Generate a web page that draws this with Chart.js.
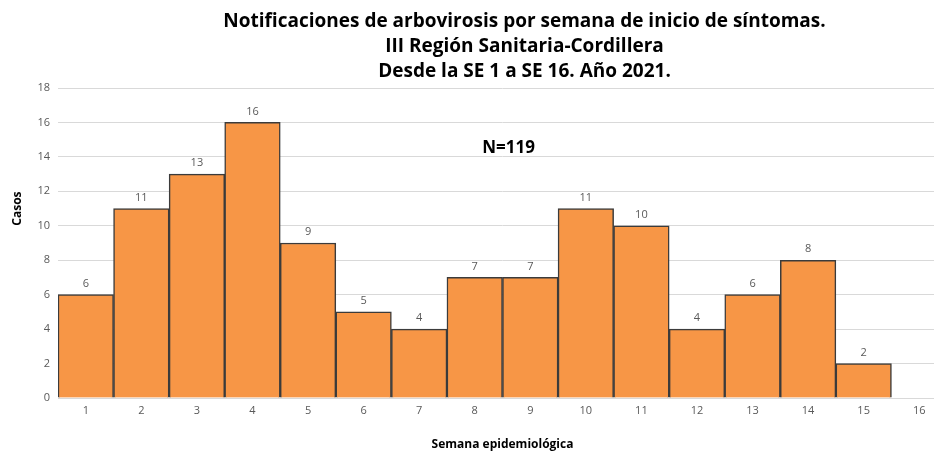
<!DOCTYPE html>
<html>
<head>
<meta charset="utf-8">
<script src="https://cdn.jsdelivr.net/npm/chart.js@4.4.1/dist/chart.umd.min.js"></script>
<style>
  html, body { margin: 0; padding: 0; background: #fff; overflow: hidden; }
  #wrap { width: 960px; height: 452px; position: relative; }
</style>
</head>
<body>
<div id="wrap"><canvas id="grafico"></canvas></div>
<script>
// datos: semana epidemiologica y casos
var semanas = ['1','2','3','4','5','6','7','8','9','10','11','12','13','14','15','16'];
var casos   = [6, 11, 13, 16, 9, 5, 4, 7, 7, 11, 10, 4, 6, 8, 2, 0];
var ticksY  = [0, 2, 4, 6, 8, 10, 12, 14, 16, 18];

var tituloLineas = [
  'Notificaciones de arbovirosis por semana de inicio de síntomas.',
  'III Región Sanitaria-Cordillera',
  'Desde la SE 1 a SE 16. Año 2021.'
];
var textoN = 'N=119';
var tituloY = 'Casos';

var fuente = "'Open Sans', 'Noto Sans', sans-serif";

// titulo, etiquetas de barras, N y titulo del eje y
var extrasPlugin = {
  id: 'extras',
  afterDatasetsDraw: function(chart) {
    var ctx = chart.ctx;
    var meta = chart.getDatasetMeta(0);
    ctx.save();
    ctx.font = '11px ' + fuente;
    ctx.fillStyle = '#595959';
    ctx.textAlign = 'center';
    ctx.textBaseline = 'middle';
    meta.data.forEach(function(bar, i) {
      if (!casos[i]) return;
      ctx.fillText(String(casos[i]), bar.x, bar.y - 11);
    });

    var area = chart.chartArea;
    var ys = chart.scales.y;
    ctx.font = 'bold 17px ' + fuente;
    ctx.fillStyle = '#000';
    ctx.fillText(textoN, (area.left + area.right) / 2 + 6, ys.getPixelForValue(14.5));

    // titulo
    ctx.font = 'bold 19px ' + fuente;
    var cx = (area.left + area.right) / 2 + 22;
    tituloLineas.forEach(function(t, i) {
      ctx.fillText(t, cx, 22 + i * 25);
    });

    // Casos (un poco mas arriba que el centro del eje)
    ctx.font = 'bold 12px ' + fuente;
    ctx.translate(18, ys.getPixelForValue(11));
    ctx.rotate(-Math.PI / 2);
    ctx.fillText(tituloY, 0, 0);
    ctx.restore();
  }
};

new Chart(document.getElementById('grafico'), {
  type: 'bar',
  data: {
    labels: semanas,
    datasets: [{
      label: 'Casos',
      data: casos,
      backgroundColor: '#F79646',
      borderColor: '#3b3b3b',
      borderWidth: 1.5,
      barPercentage: 1,
      categoryPercentage: 1,
    }]
  },
  options: {
    responsive: true,
    maintainAspectRatio: false,
    animation: false,
    layout: { padding: { top: 88, right: 13, bottom: 0, left: 0 } },
    plugins: {
      legend: { display: false },
      title: { display: false },
      tooltip: { enabled: false },
    },
    scales: {
      x: {
        grid: { display: false, drawTicks: false },
        border: { color: '#d9d9d9', width: 1 },
        ticks: { color: '#595959', font: { family: fuente, size: 11 }, padding: 6 },
        title: {
          display: true,
          text: 'Semana epidemiológica',
          color: '#000',
          font: { family: fuente, size: 12, weight: 'bold' },
          padding: { top: 0, bottom: 0 },
        },
        afterFit: function(s) { s.height = 54; },
      },
      y: {
        min: 0,
        max: 18,
        afterBuildTicks: function(s) { s.ticks = ticksY.map(function(v) { return { value: v }; }); },
        grid: { color: '#d9d9d9', lineWidth: 1, drawTicks: false },
        border: { display: false },
        ticks: { color: '#595959', font: { family: fuente, size: 11 }, padding: 8 },
        afterFit: function(s) { s.width = 58; },
      }
    }
  },
  plugins: [extrasPlugin]
});
</script>
</body>
</html>
